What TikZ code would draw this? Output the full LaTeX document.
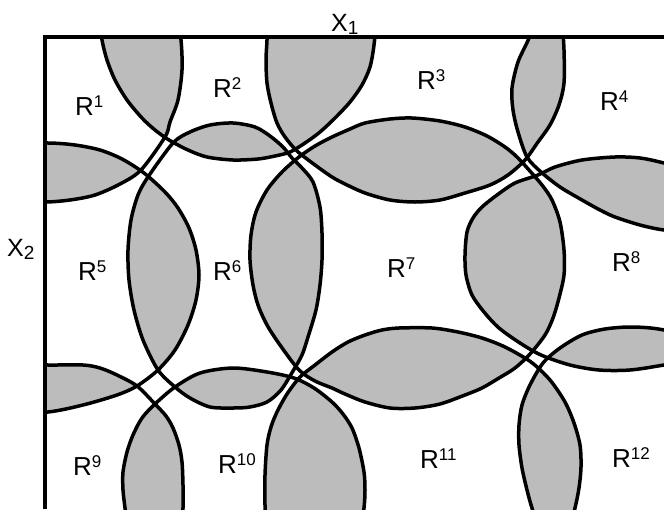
\documentclass[tikz,border=0pt]{standalone}
\usepackage{fontspec}
\setmainfont{Liberation Sans}
\definecolor{lensgray}{RGB}{188,188,188}
\tikzset{
  blobline/.style={line width=3.5pt, line join=round},
  lensfill/.style={fill=lensgray},
  framel/.style={line width=3.6pt},
  lab/.style={inner sep=0pt, anchor=base west, font=\fontsize{26}{26}\selectfont},
  axlab/.style={inner sep=0pt, anchor=base west, font=\fontsize{25}{25}\selectfont},
}
\newcommand\sups[1]{\raisebox{8pt}{\fontsize{17}{17}\selectfont #1}}
\newcommand\subs[1]{\raisebox{-3pt}{\fontsize{19}{19}\selectfont #1}}
\def\bA{plot[smooth cycle] coordinates {(40,-60) (120,-45) (160,-20) (176,10) (181,40) (182,70) (178,100) (170,122) (165,137) (141,170) (120,184) (95,195) (70,200) (45,202) (20,200) (-10,193) (-50,170) (-75,100) (-55,0)}}
\def\bB{plot[smooth cycle] coordinates {(140,-55) (240,-90) (340,-55) (370,-10) (375,25) (374,45) (370,67) (362,85) (350,102) (335,118) (320,132) (305,143) (290,152) (275,156) (258,159) (233,160) (207,157) (188,150) (169,140) (155,130) (142,118) (127,100) (115,80) (107,60) (102,40) (100,20) (105,-20)}}
\def\bC{plot[smooth cycle] coordinates {(290,-50) (415,-80) (545,-35) (560,-5) (562,20) (564,50) (564,83) (559,105) (550,125) (538,142) (525,160) (508,175) (490,185) (465,193) (440,200) (415,202) (390,200) (365,193) (345,184) (332,177) (315,165) (297,151) (285,137) (277,123) (271,103) (267,83) (266,60) (267,40) (268,10)}}
\def\bD{plot[smooth cycle] coordinates {(590,-50) (650,-60) (760,-20) (800,60) (800,150) (760,215) (700,233) (664,230) (640,225) (615,217) (600,210) (582,200) (560,187) (541,172) (527,157) (518,132) (513,110) (512,88) (518,62) (529,38) (537,12) (550,-15)}}
\def\bE{plot[smooth cycle] coordinates {(-70,170) (0,144) (48,143) (75,145) (100,150) (122,159) (144,173) (165,192) (178,208) (189,228) (196,250) (199,275) (196,300) (188,325) (175,350) (158,370) (137,386) (117,395) (83,405) (48,412) (0,414) (-40,405) (-80,360) (-90,260)}}
\def\bF{plot[smooth cycle] coordinates {(148,177) (173,143) (190,132) (210,125) (233,123) (255,127) (270,136) (283,147) (292,158) (302,168) (313,182) (320,207) (322,233) (322,260) (320,285) (316,310) (308,337) (302,355) (293,371) (281,390) (267,402) (250,407) (233,408) (210,407) (190,398) (175,387) (158,370) (143,340) (134,310) (129,280) (128,250) (131,220) (138,195)}}
\def\bG{plot[smooth cycle] coordinates {(299,157) (315,146) (332,137) (350,129) (365,123) (390,119) (412,118) (440,121) (465,127) (487,136) (505,147) (517,157) (529,170) (542,185) (552,200) (560,222) (564,250) (564,275) (559,298) (553,318) (545,335) (530,354) (515,368) (499,378) (482,388) (465,395) (440,404) (415,408) (390,408) (365,402) (345,394) (332,388) (315,381) (299,370) (280,345) (267,325) (258,305) (253,285) (250,260) (251,235) (256,212) (267,190) (282,172)}}
\def\bH{plot[smooth cycle] coordinates {(538,175) (555,167) (582,160) (615,157) (640,158) (664,163) (710,175) (770,220) (780,300) (720,355) (664,365) (630,370) (599,370) (570,365) (541,355) (520,343) (499,328) (484,312) (472,295) (466,275) (465,255) (467,232) (473,218) (482,207) (497,195) (515,183)}}
\def\bI{plot[smooth cycle] coordinates {(-40,380) (0,364) (48,365) (83,365) (100,368) (117,375) (137,386) (155,404) (166,416) (173,428) (179,445) (182,462) (183,485) (183,508) (180,535) (170,565) (100,610) (0,590) (-50,540) (-70,440)}}
\def\bJ{plot[smooth cycle] coordinates {(155,404) (175,387) (200,373) (233,368) (267,372) (294,378) (314,388) (332,402) (343,414) (352,428) (359,448) (364,472) (365,490) (364,508) (360,535) (345,570) (245,620) (150,575) (135,545) (127,525) (125,508) (123,490) (123,472) (127,452) (133,435) (142,418)}}
\def\bK{plot[smooth cycle] coordinates {(300,377) (315,365) (332,352) (348,342) (365,335) (382,330) (399,328) (432,328) (458,332) (482,338) (505,347) (531,362) (550,380) (565,402) (574,423) (580,445) (581,467) (579,488) (575,508) (568,535) (550,570) (420,620) (285,570) (270,540) (266,520) (265,505) (265,475) (267,445) (271,427) (277,412) (287,394)}}
\def\bL{plot[smooth cycle] coordinates {(543,363) (560,348) (582,335) (605,329) (632,327) (664,330) (720,345) (770,420) (740,540) (620,580) (555,550) (540,530) (532,508) (527,490) (522,468) (519,445) (519,425) (522,405) (530,385)}}
\newcommand\lens[2]{\begin{scope}\clip #1; \fill[lensfill] #2;\end{scope}}
\begin{document}
\begin{tikzpicture}[x=1pt,y=-1pt]
\useasboundingbox (0,0) rectangle (664,509);
\coordinate (tl) at (45,37);
\coordinate (tr) at (664,37);
\coordinate (bl) at (45,509);
\begin{scope}
\clip (45,37) rectangle (664,509);
\lens{\bA}{\bB}
\lens{\bB}{\bC}
\lens{\bC}{\bD}
\lens{\bA}{\bE}
\lens{\bB}{\bF}
\lens{\bC}{\bG}
\lens{\bD}{\bH}
\lens{\bE}{\bF}
\lens{\bF}{\bG}
\lens{\bG}{\bH}
\lens{\bE}{\bI}
\lens{\bF}{\bJ}
\lens{\bG}{\bK}
\lens{\bH}{\bL}
\lens{\bI}{\bJ}
\lens{\bJ}{\bK}
\lens{\bK}{\bL}
\draw[blobline] \bA; \draw[blobline] \bB; \draw[blobline] \bC; \draw[blobline] \bD;
\draw[blobline] \bE; \draw[blobline] \bF; \draw[blobline] \bG; \draw[blobline] \bH;
\draw[blobline] \bI; \draw[blobline] \bJ; \draw[blobline] \bK; \draw[blobline] \bL;
\end{scope}
\draw[framel] (bl) -- (tl) -- (tr);
\node[axlab] (x1) at (331,31) {X\subs{1}};
\node[axlab] (x2) at (7,256) {X\subs{2}};
\node[lab] (r1) at (75,115) {R\sups{1}};
\node[lab] (r2) at (213,97) {R\sups{2}};
\node[lab] (r3) at (417,89) {R\sups{3}};
\node[lab] (r4) at (600,110) {R\sups{4}};
\node[lab] (r5) at (78,280) {R\sups{5}};
\node[lab] (r6) at (213,280) {R\sups{6}};
\node[lab] (r7) at (387,277) {R\sups{7}};
\node[lab] (r8) at (612,271) {R\sups{8}};
\node[lab] (r9) at (73,475) {R\sups{9}};
\node[lab] (r10) at (218,473) {R\sups{10}};
\node[lab] (r11) at (420,468) {R\sups{11}};
\node[lab] (r12) at (612,467) {R\sups{12}};
\end{tikzpicture}
\end{document}
